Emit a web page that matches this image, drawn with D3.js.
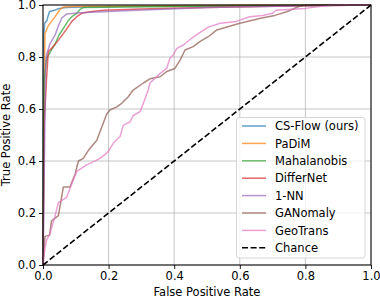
<!DOCTYPE html>
<html>
<head>
<meta charset="utf-8">
<script src="https://cdn.jsdelivr.net/npm/d3@7"></script>
<style>
  html, body { margin: 0; padding: 0; background: #fff; }
  svg text { font-family: "DejaVu Sans", sans-serif; }
</style>
</head>
<body>
<svg id="roc" width="380" height="301"></svg>
<script>
// ROC curves
const methods = ['CS-Flow (ours)', 'PaDiM', 'Mahalanobis', 'DifferNet', '1-NN', 'GANomaly', 'GeoTrans'];
const colors = ['#1f77b4', '#ff7f0e', '#2ca02c', '#d62728', '#9467bd', '#8c564b', '#e377c2'];

const csflowFpr = [0, 0.002, 0.005, 0.012, 0.016, 0.02, 0.035, 0.05, 0.07, 0.15, 0.4, 0.7, 1];
const csflowTpr = [0, 0.88, 0.93, 0.94, 0.96, 0.975, 0.98, 0.987, 0.99, 0.993, 0.996, 0.999, 1];

const padimFpr = [0, 0.003, 0.006, 0.016, 0.026, 0.037, 0.047, 0.052, 0.062, 0.1, 0.3, 0.6, 1];
const padimTpr = [0, 0.6, 0.89, 0.92, 0.937, 0.955, 0.974, 0.983, 0.992, 0.994, 0.996, 0.999, 1];

const mahaFpr = [0, 0.003, 0.011, 0.026, 0.037, 0.047, 0.057, 0.067, 0.077, 0.088, 0.103, 0.113, 0.123, 0.25, 0.5, 0.8, 1];
const mahaTpr = [0, 0.7, 0.795, 0.827, 0.85, 0.88, 0.9, 0.92, 0.94, 0.955, 0.968, 0.983, 0.99, 0.992, 0.995, 0.998, 1];

const differFpr = [0, 0.004, 0.011, 0.016, 0.031, 0.047, 0.062, 0.077, 0.088, 0.103, 0.118, 0.143, 0.184, 0.3, 0.5, 0.75, 1];
const differTpr = [0, 0.55, 0.72, 0.82, 0.84, 0.865, 0.89, 0.917, 0.937, 0.955, 0.968, 0.974, 0.98, 0.985, 0.99, 0.996, 1];

const knnFpr = [0, 0.005, 0.008, 0.011, 0.021, 0.037, 0.047, 0.057, 0.072, 0.113, 0.25, 0.5, 0.8, 1];
const knnTpr = [0, 0.47, 0.78, 0.81, 0.85, 0.885, 0.92, 0.95, 0.965, 0.97, 0.978, 0.99, 0.997, 1];

const ganFpr = [0, 0.006, 0.02, 0.026, 0.047, 0.062, 0.082, 0.098, 0.108, 0.123, 0.138, 0.164, 0.179, 0.194, 0.204, 0.225, 0.24, 0.26, 0.275, 0.306, 0.326, 0.357, 0.377, 0.402, 0.418, 0.433, 0.458, 0.479, 0.504, 0.53, 0.6, 0.667, 0.707, 0.743, 0.78, 0.8, 1];
const ganTpr = [0, 0.11, 0.115, 0.17, 0.19, 0.3, 0.3, 0.35, 0.4, 0.41, 0.44, 0.48, 0.53, 0.58, 0.596, 0.608, 0.622, 0.647, 0.673, 0.7, 0.716, 0.724, 0.744, 0.756, 0.788, 0.827, 0.84, 0.86, 0.878, 0.904, 0.93, 0.95, 0.96, 0.974, 0.994, 1, 1];

const geoFpr = [0, 0.006, 0.011, 0.021, 0.037, 0.047, 0.072, 0.087, 0.103, 0.133, 0.143, 0.174, 0.199, 0.214, 0.235, 0.245, 0.265, 0.275, 0.296, 0.306, 0.321, 0.326, 0.357, 0.377, 0.387, 0.397, 0.408, 0.428, 0.453, 0.479, 0.504, 0.54, 0.59, 0.63, 0.67, 0.7, 0.71, 0.8, 0.88, 1];
const geoTpr = [0, 0.065, 0.096, 0.12, 0.19, 0.24, 0.26, 0.31, 0.36, 0.385, 0.391, 0.41, 0.436, 0.468, 0.494, 0.538, 0.55, 0.575, 0.59, 0.622, 0.673, 0.7, 0.737, 0.756, 0.795, 0.808, 0.833, 0.846, 0.872, 0.895, 0.915, 0.93, 0.937, 0.955, 0.96, 0.968, 0.98, 0.987, 1, 1];

const chanceFpr = [0, 1];
const chanceTpr = [0, 1];

const ticks = [0, 0.2, 0.4, 0.6, 0.8, 1.0];

const curves = [
  [csflowFpr, csflowTpr],
  [padimFpr, padimTpr],
  [mahaFpr, mahaTpr],
  [differFpr, differTpr],
  [knnFpr, knnTpr],
  [ganFpr, ganTpr],
  [geoFpr, geoTpr],
];

const svg = d3.select('#roc');
const margin = { top: 5, right: 9, bottom: 36, left: 43 };
const width = 380 - margin.left - margin.right;
const height = 301 - margin.top - margin.bottom;
const fontSize = 11.5;

const x = d3.scaleLinear().domain([0, 1]).range([0, width]);
const y = d3.scaleLinear().domain([0, 1]).range([height, 0]);

const g = svg.append('g')
  .attr('transform', `translate(${margin.left},${margin.top})`);

// grid
g.append('g').selectAll('line.gx')
  .data(ticks).enter().append('line')
  .attr('x1', d => x(d)).attr('x2', d => x(d))
  .attr('y1', 0).attr('y2', height)
  .attr('stroke', '#b0b0b0').attr('stroke-width', 0.9).attr('opacity', 0.8);
g.append('g').selectAll('line.gy')
  .data(ticks).enter().append('line')
  .attr('y1', d => y(d)).attr('y2', d => y(d))
  .attr('x1', 0).attr('x2', width)
  .attr('stroke', '#b0b0b0').attr('stroke-width', 0.9).attr('opacity', 0.8);

// curves
const line = d3.line().x(d => x(d[0])).y(d => y(d[1]));

curves.forEach(([fpr, tpr], i) => {
  g.append('path')
    .datum(fpr.map((f, k) => [f, tpr[k]]))
    .attr('d', line)
    .attr('fill', 'none')
    .attr('stroke', colors[i])
    .attr('stroke-width', 1.5)
    .attr('stroke-opacity', 0.7)
    .attr('stroke-linejoin', 'round');
});

g.append('path')
  .datum(chanceFpr.map((f, k) => [f, chanceTpr[k]]))
  .attr('d', line)
  .attr('fill', 'none')
  .attr('stroke', '#000')
  .attr('stroke-width', 1.6)
  .attr('stroke-dasharray', '6,2.6');

// axes
const fmt = d3.format('.1f');
const xAxis = g.append('g')
  .attr('transform', `translate(0,${height})`)
  .call(d3.axisBottom(x).tickValues(ticks).tickFormat(fmt).tickSize(4).tickPadding(3));
const yAxis = g.append('g')
  .call(d3.axisLeft(y).tickValues(ticks).tickFormat(fmt).tickSize(4).tickPadding(3));

[xAxis, yAxis].forEach(a => {
  a.select('.domain').remove();
  a.selectAll('text')
    .attr('font-size', fontSize)
    .attr('font-family', '"DejaVu Sans", sans-serif')
    .attr('fill', '#000');
  a.selectAll('line').attr('stroke', '#000').attr('stroke-width', 0.9);
});

// frame
g.append('rect')
  .attr('x', 0).attr('y', 0)
  .attr('width', width).attr('height', height)
  .attr('fill', 'none')
  .attr('stroke', '#000')
  .attr('stroke-width', 1);

// labels
svg.append('text')
  .attr('x', margin.left + width / 2)
  .attr('y', 296)
  .attr('text-anchor', 'middle')
  .attr('font-size', fontSize)
  .text('False Positive Rate');

svg.append('text')
  .attr('transform', `translate(10,${margin.top + height / 2}) rotate(-90)`)
  .attr('text-anchor', 'middle')
  .attr('font-size', fontSize)
  .text('True Positive Rate');

// legend
const legendItems = methods.map((m, i) => ({ name: m, color: colors[i], dash: null }))
  .concat([{ name: 'Chance', color: '#000', dash: '6,2.6' }]);

const lg = svg.append('g');
lg.append('rect')
  .attr('x', 236.5).attr('y', 117.5)
  .attr('width', 128.5).attr('height', 140.5)
  .attr('rx', 2.5)
  .attr('fill', '#fff').attr('fill-opacity', 0.8)
  .attr('stroke', '#d6d6d6').attr('stroke-width', 1);

const rows = lg.selectAll('g.row')
  .data(legendItems).enter().append('g')
  .attr('transform', (d, i) => `translate(0,${126 + i * 17.4})`);

rows.append('line')
  .attr('x1', 242).attr('x2', 266)
  .attr('y1', 0).attr('y2', 0)
  .attr('stroke', d => d.color)
  .attr('stroke-width', d => d.dash ? 1.6 : 1.5)
  .attr('stroke-opacity', d => d.dash ? 1 : 0.7)
  .attr('stroke-dasharray', d => d.dash);

rows.append('text')
  .attr('x', 275)
  .attr('y', 0)
  .attr('dy', '0.36em')
  .attr('font-size', fontSize)
  .text(d => d.name);
</script>
</body>
</html>
